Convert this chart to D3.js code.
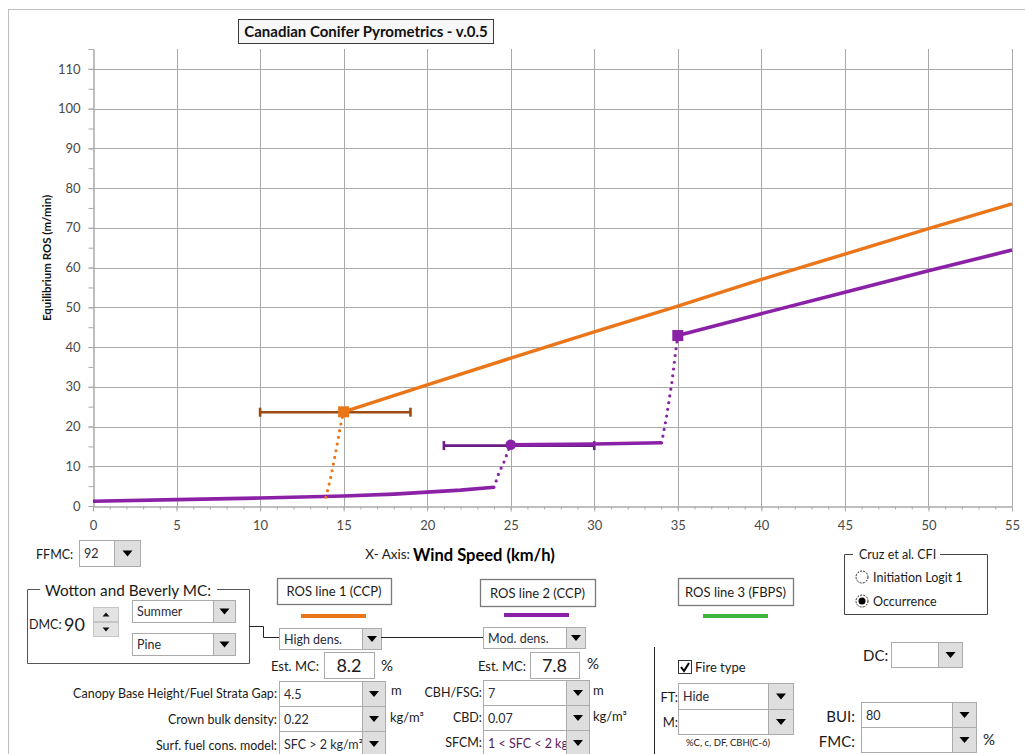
<!DOCTYPE html>
<html><head><meta charset="utf-8">
<script src="https://cdn.jsdelivr.net/npm/d3@7"></script>
<style>
body{margin:0;background:#fff;}
svg{display:block;font-family:Lato,"Noto Sans",sans-serif;}
</style>
</head><body>
<svg id="c" width="1025" height="754"></svg>
<script>
// ---------- data ----------
const xMajorTicks = [0,5,10,15,20,25,30,35,40,45,50,55];
const xMinorTicks = d3.range(0,56,1);
const yMajorTicks = [0,10,20,30,40,50,60,70,80,90,100,110];
const yMinorTicks = d3.range(0,116,5);

const ros1Crown = [[15,23.7],[20,30.5],[25,37.2],[30,43.8],[35,50.3],[40,57.0],[45,63.4],[50,69.8],[55,76.0]];
const ros1Transition = [[13.94,2.2],[14.24,7.4],[14.56,14.3],[14.84,20.8],[15,23.7]];
const ros1Marker = [15,23.7];
const ros1ErrorBar = [10,19,23.6];

const ros2Surface = [[0,1.2],[5,1.6],[10,2.0],[15,2.5],[18,3.0],[20,3.5],[22,4.0],[24,4.7]];
const ros2Transition1 = [[24,4.7],[24.28,8.2],[24.61,11.2],[24.88,14.3],[25,15.4]];
const ros2Passive = [[25,15.4],[30,15.6],[34.03,15.9]];
const ros2Transition2 = [[34.03,15.9],[34.33,22.6],[34.65,31.2],[34.85,38.2],[35,42.9]];
const ros2Crown = [[35,42.9],[40,48.4],[45,53.8],[50,59.2],[55,64.4]];
const ros2CircleMarker = [25,15.4];
const ros2SquareMarker = [35,42.9];
const ros2ErrorBar = [21,30,15.2];

const C_OR = '#EA7619', C_OR_D = '#9E4B12', C_PU = '#8B21A6', C_PU_D = '#6A1D86', C_GR = '#3DB43D';
const GRID = '#A9A9A9';

// ---------- chart ----------
const svg = d3.select('#c');
svg.append('rect').attr('x',8.5).attr('y',9.5).attr('width',1040).attr('height',760)
  .attr('fill','#fff').attr('stroke','#BFBFBF');

const x = d3.scaleLinear([0,55],[93,1012]);
const y = d3.scaleLinear([0,115],[506,49]);
const px = v => Math.round(x(v))+0.5, py = v => Math.round(y(v))+0.5;

const grid = svg.append('g');
grid.selectAll('.vg').data(xMajorTicks.filter(d=>d>0)).join('line')
  .attr('x1',px).attr('x2',px).attr('y1',y(115)).attr('y2',y(0))
  .attr('stroke',GRID).attr('stroke-width',1);
grid.selectAll('.hg').data(yMajorTicks.filter(d=>d>0)).join('line')
  .attr('y1',py).attr('y2',py).attr('x1',x(0)).attr('x2',x(55))
  .attr('stroke',GRID).attr('stroke-width',1);

function styleAxis(g){
  g.select('.domain').attr('stroke',GRID);
  g.selectAll('.tick line').attr('stroke',GRID);
  g.selectAll('.tick text').attr('fill','#4a4a4a').attr('font-size',13).attr('font-family','Lato, sans-serif');
}
const yMinor = svg.append('g').attr('transform','translate(93.5,0)')
  .call(d3.axisLeft(y).tickValues(yMinorTicks).tickSize(5).tickSizeOuter(0).tickFormat(''));
styleAxis(yMinor);
const yAx = svg.append('g').attr('transform','translate(93.5,0)')
  .call(d3.axisLeft(y).tickValues(yMajorTicks).tickSize(5).tickSizeOuter(0).tickPadding(8));
styleAxis(yAx);
const xMinor = svg.append('g').attr('transform','translate(0,506.5)')
  .call(d3.axisBottom(x).tickValues(xMinorTicks).tickSize(3).tickSizeOuter(0).tickFormat(''));
styleAxis(xMinor);
const xAx = svg.append('g').attr('transform','translate(0,506.5)')
  .call(d3.axisBottom(x).tickValues(xMajorTicks).tickSize(5).tickSizeOuter(0).tickPadding(9));
styleAxis(xAx);

svg.append('text').attr('transform','translate(51,258) rotate(-90)')
  .attr('text-anchor','middle').attr('font-size',11.5).attr('font-weight','bold').attr('fill','#111')
  .text('Equilibrium ROS (m/min)');

// title
svg.append('rect').attr('x',238.5).attr('y',19.5).attr('width',255).attr('height',24)
  .attr('fill','#F7F7F7').attr('stroke','#3a3a3a');
svg.append('text').attr('x',366).attr('y',36.5).attr('text-anchor','middle')
  .attr('font-size',15).attr('font-weight','bold').attr('fill','#111')
  .text('Canadian Conifer Pyrometrics - v.0.5');

const line = d3.line().x(d=>x(d[0])).y(d=>y(d[1]));
const plot = svg.append('g');
function solid(data,color,w){
  plot.append('path').datum(data).attr('d',line).attr('fill','none')
    .attr('stroke',color).attr('stroke-width',w).attr('stroke-linejoin','round');
}
function dotted(data,color){
  plot.append('path').datum(data).attr('d',line).attr('fill','none')
    .attr('stroke',color).attr('stroke-width',3.2).attr('stroke-linecap','round')
    .attr('stroke-dasharray','0 6.8');
}
function errBar(e,color){
  const g = plot.append('g').attr('stroke',color).attr('stroke-width',2.6);
  g.append('line').attr('x1',x(e[0])).attr('x2',x(e[1])).attr('y1',y(e[2])).attr('y2',y(e[2]));
  [e[0],e[1]].forEach(v=>g.append('line').attr('x1',x(v)).attr('x2',x(v))
    .attr('y1',y(e[2])-4.5).attr('y2',y(e[2])+4.5));
}
errBar(ros1ErrorBar,C_OR_D);
errBar(ros2ErrorBar,C_PU_D);
solid(ros2Surface,C_PU,3.6);
dotted(ros2Transition1,C_PU);
solid(ros2Passive,C_PU,3.6);
dotted(ros2Transition2,C_PU);
solid(ros2Crown,C_PU,3.6);
dotted(ros1Transition,C_OR);
solid(ros1Crown,C_OR,3.4);
plot.append('rect').attr('x',x(ros1Marker[0])-5.5).attr('y',y(ros1Marker[1])-5.5)
  .attr('width',11).attr('height',11).attr('fill',C_OR);
plot.append('rect').attr('x',x(ros2SquareMarker[0])-5.5).attr('y',y(ros2SquareMarker[1])-5.5)
  .attr('width',11).attr('height',11).attr('fill',C_PU);
plot.append('circle').attr('cx',x(ros2CircleMarker[0])).attr('cy',y(ros2CircleMarker[1]))
  .attr('r',5.3).attr('fill',C_PU);

// ---------- form controls ----------
const ui = svg.append('g');
const TXT = '#1a1a1a';
function label(xx,yy,t,opt={}){
  return ui.append('text').attr('x',xx).attr('y',yy).attr('font-size',opt.size||13)
    .attr('text-anchor',opt.anchor||'start').attr('font-weight',opt.weight||'normal')
    .attr('fill',opt.fill||TXT).text(t);
}
let clipId = 0;
function dropdown(xx,yy,w,h,bw,t,fill){
  const g = ui.append('g');
  const id = 'clip'+(clipId++);
  svg.append('clipPath').attr('id',id).append('rect').attr('x',xx).attr('y',yy).attr('width',w-bw).attr('height',h);
  g.append('rect').attr('x',xx+0.5).attr('y',yy+0.5).attr('width',w).attr('height',h)
    .attr('fill','#fff').attr('stroke','#ABABAB');
  g.append('rect').attr('x',xx+w-bw+0.5).attr('y',yy+0.5).attr('width',bw).attr('height',h)
    .attr('fill','#DEDEDE').attr('stroke','#ABABAB');
  const cx = xx+w-bw/2+0.5, cy = yy+h/2+0.5;
  g.append('path').attr('d',`M${cx-5},${cy-3}L${cx+5},${cy-3}L${cx},${cy+3}Z`).attr('fill','#000');
  if(t) g.append('text').attr('x',xx+5).attr('y',yy+h/2+5).attr('font-size',12.5)
    .attr('fill',fill||'#2a2a3a').attr('clip-path',`url(#${id})`).text(t);
}
function box(xx,yy,w,h,t,size){
  ui.append('rect').attr('x',xx+0.5).attr('y',yy+0.5).attr('width',w).attr('height',h)
    .attr('fill','#fff').attr('stroke','#7A7A7A').attr('stroke-width',1.3);
  ui.append('text').attr('x',xx+w/2).attr('y',yy+h/2+5).attr('text-anchor','middle')
    .attr('font-size',size||13).attr('fill',TXT).text(t);
}
function valueBox(xx,yy,w,h,t){
  ui.append('rect').attr('x',xx+0.5).attr('y',yy+0.5).attr('width',w).attr('height',h)
    .attr('fill','#fff').attr('stroke','#ABABAB');
  ui.append('text').attr('x',xx+w/2).attr('y',yy+h/2+6.5).attr('text-anchor','middle')
    .attr('font-size',18).attr('fill',TXT).text(t);
}
function legendLine(x1,x2,yy,c){
  ui.append('line').attr('x1',x1).attr('x2',x2).attr('y1',yy).attr('y2',yy).attr('stroke',c).attr('stroke-width',4);
}

// FFMC
label(36,559,'FFMC:',{size:12.5});
dropdown(79,540,61,26,26,'92');
// X axis title
label(410,559,'X- Axis:',{size:13.5,anchor:'end'});
label(413,561,'Wind Speed (km/h)',{size:16.5,weight:'bold',fill:'#000'});

// Wotton group
ui.append('path').attr('d','M40,589.5H27.5V663.5H249.5V589.5H217').attr('fill','none').attr('stroke','#555');
label(45,596,'Wotton and Beverly MC:',{size:15.3});
label(29,629,'DMC:',{size:12.5});
label(64,631,'90',{size:18});
// spinner
[[607,true],[622,false]].forEach(([yy,up])=>{
  ui.append('rect').attr('x',93.5).attr('y',yy+0.5).attr('width',25).attr('height',14)
    .attr('fill','#E3E3E3').attr('stroke','#C4C4C4');
  const cx=106, cy=yy+7.5;
  ui.append('path').attr('d',up?`M${cx-3.5},${cy+2}L${cx+3.5},${cy+2}L${cx},${cy-2}Z`:`M${cx-3.5},${cy-2}L${cx+3.5},${cy-2}L${cx},${cy+2}Z`).attr('fill','#111');
});
dropdown(132,600,103,22,22,'Summer');
dropdown(132,633,103,22,22,'Pine');
ui.append('path').attr('d','M249.5,626.5H263.5V637.5H279').attr('fill','none').attr('stroke','#222');

// ROS line 1
box(277,578,114,26,'ROS line 1 (CCP)');
legendLine(301,366,616,C_OR);
dropdown(279,628,102,21,19,'High dens.');
ui.append('line').attr('x1',381).attr('x2',483).attr('y1',637.5).attr('y2',637.5).attr('stroke','#222');
label(319,671,'Est. MC:',{size:13,anchor:'end'});
valueBox(324,652,50,26,'8.2');
label(381,671,'%',{size:15});
label(277,698,'Canopy Base Height/Fuel Strata Gap:',{anchor:'end',size:12.5});
dropdown(279,681,106,25,23,'4.5');
label(391,695,'m',{size:13});
label(277,724,'Crown bulk density:',{anchor:'end',size:12.5});
dropdown(279,706,106,25,23,'0.22');
label(390,722,'kg/m³',{size:13});
label(277,750,'Surf. fuel cons. model:',{anchor:'end',size:12.5});
dropdown(279,731,106,25,23,'SFC > 2 kg/m²');

// ROS line 2
box(480,579,115,27,'ROS line 2 (CCP)');
legendLine(504,569,615,C_PU);
dropdown(483,627,102,21,19,'Mod. dens.');
label(526,671,'Est. MC:',{size:13,anchor:'end'});
valueBox(530,652,49,26,'7.8');
label(587,669,'%',{size:15});
label(482,697,'CBH/FSG:',{anchor:'end',size:12.5});
dropdown(483,680,106,25,23,'7');
label(593,695,'m',{size:13});
label(482,722,'CBD:',{anchor:'end',size:12.5});
dropdown(483,705,106,25,23,'0.07');
label(593,721,'kg/m³',{size:13});
label(482,747,'SFCM:',{anchor:'end',size:12.5});
dropdown(483,730,106,25,23,'1 < SFC < 2 kg/m²','#5B1A5B');

// divider
ui.append('line').attr('x1',654.5).attr('x2',654.5).attr('y1',647).attr('y2',754).attr('stroke','#222');

// ROS line 3
box(678,578,115,27,'ROS line 3 (FBPS)');
legendLine(703,768,616,C_GR);
ui.append('rect').attr('x',678.5).attr('y',660.5).attr('width',13).attr('height',13).attr('fill','#fff').attr('stroke','#333');
ui.append('path').attr('d','M681,667L684,671L689,663').attr('fill','none').attr('stroke','#000').attr('stroke-width',2);
label(695,672,'Fire type',{size:13});
dropdown(678,683,115,26,25,'Hide');
dropdown(678,709,115,25,25,'');
label(678,702,'FT:',{size:13,anchor:'end'});
label(678,727,'M:',{size:13,anchor:'end'});
label(686,746,'%C, c, DF, CBH(C-6)',{size:9.5});

// Cruz group
ui.append('path').attr('d','M853,554.5H844.5V614.5H987.5V554.5H940').attr('fill','none').attr('stroke','#444');
label(859,559,'Cruz et al. CFI',{size:12.5});
ui.append('circle').attr('cx',862).attr('cy',577).attr('r',6).attr('fill','#fff').attr('stroke','#222').attr('stroke-dasharray','2 1.2');
label(873,582,'Initiation Logit 1',{size:12.5});
ui.append('circle').attr('cx',862).attr('cy',601).attr('r',6).attr('fill','#fff').attr('stroke','#222').attr('stroke-dasharray','2 1.2');
ui.append('circle').attr('cx',862).attr('cy',601).attr('r',3.5).attr('fill','#000');
label(873,606,'Occurrence',{size:12.5});

// DC / BUI / FMC
label(863,661,'DC:',{size:15});
dropdown(891,642,71,25,24,'');
label(855,722,'BUI:',{size:15,anchor:'end'});
dropdown(861,702,115,25,24,'80');
label(855,747,'FMC:',{size:15,anchor:'end'});
dropdown(861,727,115,25,24,'');
label(983,745,'%',{size:15});
</script>
</body></html>
